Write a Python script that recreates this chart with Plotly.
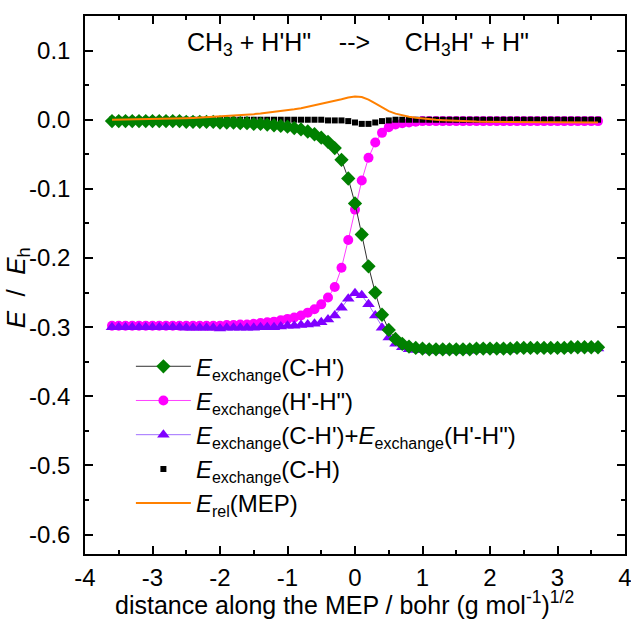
import plotly.graph_objects as go

# ---------------- data ----------------
x = [-3.6, -3.5, -3.4, -3.3, -3.2, -3.1, -3.0, -2.9, -2.8, -2.7, -2.6, -2.5,
     -2.4, -2.3, -2.2, -2.1, -2.0, -1.9, -1.8, -1.7, -1.6, -1.5, -1.4, -1.3,
     -1.2, -1.1, -1.0, -0.9, -0.8, -0.7, -0.6, -0.5, -0.4, -0.3, -0.2, -0.1,
     0.0, 0.1, 0.2, 0.3, 0.4, 0.5, 0.6, 0.7, 0.8, 0.9, 1.0, 1.1, 1.2, 1.3,
     1.4, 1.5, 1.6, 1.7, 1.8, 1.9, 2.0, 2.1, 2.2, 2.3, 2.4, 2.5, 2.6, 2.7,
     2.8, 2.9, 3.0, 3.1, 3.2, 3.3, 3.4, 3.5, 3.6]

e_ch1 = [-0.002, -0.002, -0.002, -0.002, -0.002, -0.002, -0.002, -0.002, -0.002, -0.002, -0.002, -0.003,
         -0.003, -0.003, -0.003, -0.003, -0.004, -0.004, -0.004, -0.005, -0.005, -0.006, -0.006, -0.007,
         -0.008, -0.009, -0.010, -0.012, -0.014, -0.017, -0.021, -0.026, -0.032, -0.041, -0.058, -0.085,
         -0.121, -0.166, -0.212, -0.250, -0.282, -0.304, -0.317, -0.324, -0.328, -0.330, -0.331, -0.332, -0.332, -0.332,
         -0.332, -0.332, -0.332, -0.332, -0.331, -0.331, -0.331, -0.331, -0.331, -0.331, -0.330, -0.330, -0.330, -0.330,
         -0.330, -0.330, -0.330, -0.330, -0.329, -0.329, -0.329, -0.329, -0.329]

e_hh = [-0.298, -0.298, -0.298, -0.298, -0.298, -0.298, -0.298, -0.298, -0.298, -0.298, -0.298, -0.298,
        -0.298, -0.298, -0.298, -0.298, -0.298, -0.297, -0.297, -0.296, -0.296, -0.295, -0.294, -0.293,
        -0.292, -0.290, -0.288, -0.286, -0.283, -0.279, -0.274, -0.267, -0.257, -0.242, -0.214, -0.174,
        -0.130, -0.088, -0.055, -0.033, -0.019, -0.011, -0.007, -0.005, -0.004, -0.003, -0.002, -0.002, -0.002, -0.002,
        -0.002, -0.002, -0.002, -0.002, -0.002, -0.002, -0.002, -0.002, -0.002, -0.002, -0.002, -0.002, -0.002, -0.002,
        -0.002, -0.002, -0.002, -0.002, -0.002, -0.002, -0.002, -0.002, -0.002]

e_sum = [-0.300, -0.300, -0.300, -0.300, -0.300, -0.300, -0.300, -0.300, -0.300, -0.300, -0.300, -0.301,
         -0.301, -0.301, -0.301, -0.301, -0.302, -0.301, -0.301, -0.301, -0.301, -0.301, -0.300, -0.300,
         -0.300, -0.299, -0.298, -0.298, -0.297, -0.296, -0.295, -0.293, -0.289, -0.283, -0.272, -0.259,
         -0.251, -0.254, -0.267, -0.283, -0.301, -0.315, -0.324, -0.329, -0.332, -0.333, -0.333, -0.334, -0.334, -0.334,
         -0.334, -0.334, -0.334, -0.334, -0.333, -0.333, -0.333, -0.333, -0.333, -0.333, -0.332, -0.332, -0.332, -0.332,
         -0.332, -0.332, -0.332, -0.332, -0.331, -0.331, -0.331, -0.331, -0.331]

e_ch = [0.000, 0.000, 0.000, 0.000, 0.000, 0.000, 0.000, 0.000, 0.000, 0.000, 0.000, 0.000,
        0.000, 0.000, 0.000, 0.000, 0.000, 0.000, 0.000, 0.000, 0.000, 0.000, 0.000, 0.000,
        0.000, 0.000, 0.000, 0.000, 0.000, 0.000, 0.000, 0.000, -0.001, -0.001, -0.001, -0.002,
        -0.004, -0.006, -0.006, -0.004, -0.002, -0.001, 0.000, 0.000, 0.000, 0.000, 0.000, 0.000, 0.000, 0.000,
        0.000, 0.000, 0.000, 0.000, 0.000, 0.000, 0.000, 0.000, 0.000, 0.000, 0.000, 0.000, 0.000, 0.000,
        0.000, 0.000, 0.000, 0.000, 0.000, 0.000, 0.000, 0.000, 0.000]

e_rel = [0.0000, 0.0001, 0.0002, 0.0003, 0.0005, 0.0006, 0.0008, 0.0010, 0.0012, 0.0015, 0.0018, 0.0022,
         0.0026, 0.0031, 0.0036, 0.0041, 0.0046, 0.0052, 0.0058, 0.0065, 0.0073, 0.0081, 0.0090, 0.0100,
         0.0110, 0.0122, 0.0135, 0.0150, 0.0165, 0.0185, 0.0205, 0.0225, 0.0247, 0.0270, 0.0295, 0.0320,
         0.0335, 0.0328, 0.0290, 0.0235, 0.0175, 0.0125, 0.0088, 0.0062, 0.0044, 0.0030, 0.0018, 0.0008, 0.0000, -0.0006,
         -0.0012, -0.0017, -0.0021, -0.0024, -0.0027, -0.0029, -0.0031, -0.0032, -0.0033, -0.0034, -0.0035, -0.0036, -0.0036, -0.0037,
         -0.0037, -0.0038, -0.0038, -0.0038, -0.0039, -0.0039, -0.0039, -0.0040, -0.0040]

x_tickvals = [-4, -3, -2, -1, 0, 1, 2, 3, 4]
x_ticktext = ["-4", "-3", "-2", "-1", "0", "1", "2", "3", "4"]
y_tickvals = [0.1, 0.0, -0.1, -0.2, -0.3, -0.4, -0.5, -0.6]
y_ticktext = ["0.1", "0.0", "-0.1", "-0.2", "-0.3", "-0.4", "-0.5", "-0.6"]

SUB = "<sub><span style='font-size:16px'>{}</span></sub>"
EX = "<i>E</i>" + SUB.format("exchange")
names = {
    "ch1": EX + "(C-H')",
    "hh": EX + "(H'-H\")",
    "sum": EX + "(C-H')+" + EX + "(H'-H\")",
    "ch": EX + "(C-H)",
    "rel": "<i>E</i>" + SUB.format("rel") + "(MEP)",
}

FONT = "Liberation Sans, Arial, sans-serif"
NB = "\u00a0"

fig = go.Figure()

# drawing order chosen to match overlaps; legend order set by legendrank
fig.add_trace(go.Scatter(x=x, y=e_hh, name=names["hh"], mode="lines+markers",
                         line=dict(color="#ff40ff", width=1),
                         marker=dict(symbol="circle", size=10, color="#ff00ff"),
                         legendrank=2))
fig.add_trace(go.Scatter(x=x, y=e_sum, name=names["sum"], mode="lines+markers",
                         line=dict(color="#a070ff", width=1),
                         marker=dict(symbol="triangle-up", size=11, color="#8000ff"),
                         legendrank=3))
fig.add_trace(go.Scatter(x=x, y=e_ch, name=names["ch"], mode="markers",
                         marker=dict(symbol="square", size=6, color="#000000"),
                         legendrank=4))
fig.add_trace(go.Scatter(x=x, y=e_ch1, name=names["ch1"], mode="lines+markers",
                         line=dict(color="#303030", width=1),
                         marker=dict(symbol="diamond", size=11, color="#008000"),
                         legendrank=1))
fig.add_trace(go.Scatter(x=x, y=e_rel, name=names["rel"], mode="lines",
                         line=dict(color="#ff8000", width=2),
                         legendrank=5))

axis_common = dict(
    showline=True, linecolor="black", linewidth=1.5, mirror="allticks",
    ticks="inside", ticklen=8, tickwidth=1.5, tickcolor="black",
    showgrid=False, zeroline=False, automargin=False, ticklabeloverflow="allow",
    tickfont=dict(family=FONT, size=24, color="black"),
)

fig.update_xaxes(range=[-4, 4], tickvals=x_tickvals, ticktext=x_ticktext, ticklabelstandoff=1,
                 minor=dict(ticks="inside", ticklen=4, tickwidth=1.5, tickcolor="black", dtick=0.5, tick0=0),
                 **axis_common)
fig.update_yaxes(range=[-0.628, 0.15], tickvals=y_tickvals, ticktext=y_ticktext, ticklabelstandoff=8,
                 minor=dict(ticks="inside", ticklen=4, tickwidth=1.5, tickcolor="black", dtick=0.05, tick0=0),
                 **axis_common)

# axis titles as annotations for exact placement
fig.add_annotation(text="distance along the MEP / bohr (g mol<sup>-1</sup>)<sup>1/2</sup>",
                   xref="paper", yref="paper", x=0.481, y=-0.091, xanchor="center", yanchor="middle",
                   showarrow=False, font=dict(family=FONT, size=25, color="black"))
fig.add_annotation(text="<i>E</i>" + NB * 2 + "/" + NB * 2 + "<i>E</i><sub>h</sub>",
                   xref="paper", yref="paper", x=-0.125, y=0.495, xanchor="center", yanchor="middle",
                   textangle=-90, showarrow=False, font=dict(family=FONT, size=26, color="black"))

fig.add_annotation(text="CH<sub>3</sub> + H'H\"" + NB * 4 + "-->" + NB * 5 + "CH<sub>3</sub>H' + H\"",
                   xref="paper", yref="paper", x=0.505, y=0.948, xanchor="center", yanchor="middle",
                   showarrow=False, font=dict(family=FONT, size=25, color="black"))

fig.update_layout(
    width=631, height=619,
    margin=dict(l=85, r=6, t=16, b=65),
    plot_bgcolor="white", paper_bgcolor="white",
    showlegend=True,
    legend=dict(x=0.085, y=0.39, xanchor="left", yanchor="top",
                bgcolor="rgba(0,0,0,0)", borderwidth=0,
                font=dict(family=FONT, size=24, color="black"),
                tracegroupgap=0, itemwidth=55),
)

fig.write_html("out.html", config={"displayModeBar": False},
               post_script="document.body.style.margin='0';document.body.style.overflow='hidden';")
